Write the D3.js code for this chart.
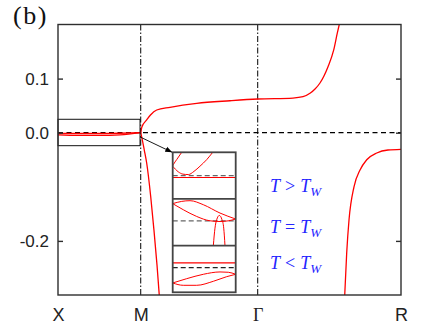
<!DOCTYPE html>
<html>
<head>
<meta charset="utf-8">
<script src="https://cdnjs.cloudflare.com/ajax/libs/d3/7.8.5/d3.min.js"></script>
<style>
body{margin:0;background:#fff;}
svg{display:block;}
</style>
</head>
<body>
<div id="chart"></div>
<script>
// K-PATH: X-M : M-GAMMA : GAMMA-R = 1 : SQRT2 : SQRT3
var kTicks = [0, 1, 1 + Math.SQRT2, 1 + Math.SQRT2 + Math.sqrt(3)];
var kLabels = ["X", "M", "\u0393", "R"];
var yTicks = [0.1, 0.0, -0.2];
var yTickLabels = ["0.1", "0.0", "-0.2"];

// X-M : TWO NEARLY FLAT BANDS
var xmK = [0, 0.25, 0.5, 0.75, 1];
var xmBandA = [-0.0015, -0.0015, -0.0015, -0.001, 0];
var xmBandB = [-0.004, -0.005, -0.005, -0.004, 0];

// BAND LEAVING M UPWARD, FLAT ACROSS GAMMA, DIVERGING TOWARD R
var upK = [1.0, 1.015, 1.072, 1.118, 1.193, 1.354, 1.677, 2.079, 2.414, 2.84, 2.962, 3.046, 3.107, 3.167, 3.264, 3.333, 3.376, 3.40];
var upE = [0, 0.011, 0.0235, 0.0327, 0.042, 0.047, 0.0543, 0.0591, 0.0623, 0.064, 0.0665, 0.0728, 0.0808, 0.0919, 0.122, 0.153, 0.184, 0.2];

// BAND LEAVING M DOWNWARD
var downK = [1.0, 1.012, 1.043, 1.072, 1.12, 1.16, 1.197, 1.224];
var downE = [0, -0.008, -0.032, -0.056, -0.117, -0.180, -0.245, -0.30];

// BAND COMING UP FROM BELOW NEAR R
var rK = [3.466, 3.490, 3.518, 3.578, 3.651, 3.732, 3.853, 3.989, 4.146];
var rE = [-0.300, -0.222, -0.161, -0.100, -0.069, -0.050, -0.0375, -0.032, -0.0307];

// ZOOM BOX ROUND THE X-M SEGMENT
var boxK = [0, 1];
var boxE = [-0.024, 0.0248];

// INSET PANELS, LOCAL COORDS: u ACROSS (0..1), v UP (0..1)
var insetRelations = [">", "=", "<"];
// PANEL 1 (T > Tw)
var p1ArcU = [0, 0.01, 0.063, 0.143];
var p1ArcV = [0.71, 0.736, 0.843, 1.0];
var p1BowlU = [0, 0.089, 0.163, 0.248, 0.338, 0.433, 0.54, 0.635];
var p1BowlV = [0.702, 0.581, 0.532, 0.523, 0.591, 0.702, 0.843, 1.0];
var p1Flat = 0.46;
var p1Dash = 0.5;
// PANEL 2 (T = Tw)
var p2UpperU = [0, 0.143, 0.275, 0.486, 0.751, 1];
var p2UpperV = [0.9, 0.948, 0.963, 0.877, 0.698, 0.57];
var p2LowerU = [0, 0.168, 0.381, 0.592, 0.751, 0.883, 1];
var p2LowerV = [0.9, 0.769, 0.625, 0.532, 0.517, 0.532, 0.57];
var p2PeakU = [0.645, 0.671, 0.698, 0.74, 0.783, 0.81, 0.83];
var p2PeakV = [0.0, 0.375, 0.554, 0.647, 0.554, 0.375, 0.0];
var p2Dash = 0.532;
// PANEL 3 (T < Tw)
var p3UpperU = [0, 0.222, 0.486, 0.751, 0.883, 1];
var p3UpperV = [0.2, 0.292, 0.386, 0.436, 0.429, 0.386];
var p3LowerU = [0, 0.168, 0.381, 0.645, 0.857, 1];
var p3LowerV = [0.2, 0.15, 0.15, 0.236, 0.335, 0.386];
var p3Flat = 0.629;
var p3Dash = 0.528;

var W = 443, H = 332;
var plot = {left: 58, right: 401, top: 24.5, bottom: 295};
var RED = "#ff0000", FRAME = "#2e2e2e";

var svg = d3.select("#chart").append("svg")
	.attr("width", W)
	.attr("height", H)
	.style("background", "#fff");

var x = d3.scaleLinear().domain([0, kTicks[3]]).range([plot.left, plot.right]);
var y = d3.scaleLinear().domain([-0.3, 0.2]).range([plot.bottom, plot.top]);

svg.append("defs").append("clipPath").attr("id", "plotClip")
	.append("rect")
	.attr("x", plot.left).attr("y", plot.top)
	.attr("width", plot.right - plot.left).attr("height", plot.bottom - plot.top);

var marker = svg.select("defs").append("marker")
	.attr("id", "arrow")
	.attr("viewBox", "0 0 10 10")
	.attr("refX", 10).attr("refY", 5)
	.attr("markerWidth", 7).attr("markerHeight", 7)
	.attr("markerUnits", "userSpaceOnUse")
	.attr("orient", "auto");
marker.append("path").attr("d", "M0,1 L10,5 L0,9 z").attr("fill", "#000");

var g = svg.append("g").attr("clip-path", "url(#plotClip)");

//SYMMETRY POINT LINES (M, GAMMA)
g.selectAll("line.kline")
	.data(kTicks.slice(1, 3))
	.enter().append("line")
	.attr("class", "kline")
	.attr("x1", function(d){return x(d);})
	.attr("x2", function(d){return x(d);})
	.attr("y1", plot.top).attr("y2", plot.bottom)
	.attr("stroke", "#000")
	.attr("stroke-width", 1)
	.attr("stroke-dasharray", "6,2,1.5,2");

//ZERO LINE
g.append("line")
	.attr("x1", plot.left).attr("x2", plot.right)
	.attr("y1", y(0)).attr("y2", y(0))
	.attr("stroke", "#000")
	.attr("stroke-width", 1.2)
	.attr("stroke-dasharray", "5,3.5");

function zipK(ks, es){
	return ks.map(function(k, i){return [k, es[i]];});
}

var bandLine = d3.line()
	.x(function(d){return x(d[0]);})
	.y(function(d){return y(d[1]);})
	.curve(d3.curveMonotoneX);

var bands = [
	zipK(xmK, xmBandA),
	zipK(xmK, xmBandB),
	zipK(upK, upE),
	zipK(downK, downE),
	zipK(rK, rE)
];

g.selectAll("path.band")
	.data(bands)
	.enter().append("path")
	.attr("class", "band")
	.attr("d", bandLine)
	.attr("fill", "none")
	.attr("stroke", RED)
	.attr("stroke-width", 1.3);

//ZOOM BOX
svg.append("rect")
	.attr("x", x(boxK[0])).attr("y", y(boxE[1]))
	.attr("width", x(boxK[1]) - x(boxK[0]) - 0.7)
	.attr("height", y(boxE[0]) - y(boxE[1]))
	.attr("fill", "none")
	.attr("stroke", "#111")
	.attr("stroke-width", 1);

//INSET
var inset = {left: 172.7, right: 235.7, top: 152.3, bottom: 292.3};
var panelH = (inset.bottom - inset.top) / 3;
var ix = d3.scaleLinear().domain([0, 1]).range([inset.left, inset.right]);
var panels = [0, 1, 2].map(function(i){
	return d3.scaleLinear().domain([0, 1]).range([inset.top + (i + 1) * panelH, inset.top + i * panelH]);
});

//ARROW FROM BOX TO INSET
svg.append("line")
	.attr("x1", x(1) - 0.5).attr("y1", y(-0.008))
	.attr("x2", inset.left - 0.5).attr("y2", inset.top)
	.attr("stroke", "#000")
	.attr("stroke-width", 0.9)
	.attr("marker-end", "url(#arrow)");

svg.append("rect")
	.attr("x", inset.left).attr("y", inset.top)
	.attr("width", inset.right - inset.left).attr("height", inset.bottom - inset.top)
	.attr("fill", "#fff");

svg.append("clipPath").attr("id", "insetClip")
	.append("rect")
	.attr("x", inset.left).attr("y", inset.top)
	.attr("width", inset.right - inset.left).attr("height", inset.bottom - inset.top);

var ig = svg.append("g").attr("clip-path", "url(#insetClip)");

function insetCurve(us, vs, panel){
	var sy = panels[panel];
	var pts = us.map(function(u, i){return [ix(u), sy(vs[i])];});
	return d3.line().curve(d3.curveMonotoneX)(pts);
}

function insetH(v, panel, color, dash){
	ig.append("line")
		.attr("x1", inset.left).attr("x2", inset.right)
		.attr("y1", panels[panel](v)).attr("y2", panels[panel](v))
		.attr("stroke", color)
		.attr("stroke-width", 1.2)
		.attr("stroke-dasharray", dash);
}

var insetRed = [
	insetCurve(p1ArcU, p1ArcV, 0),
	insetCurve(p1BowlU, p1BowlV, 0),
	insetCurve(p2UpperU, p2UpperV, 1),
	insetCurve(p2LowerU, p2LowerV, 1),
	insetCurve(p2PeakU, p2PeakV, 1),
	insetCurve(p3UpperU, p3UpperV, 2),
	insetCurve(p3LowerU, p3LowerV, 2)
];

insetH(p1Dash, 0, "#666", "5,3");
insetH(p2Dash, 1, "#666", "5,3");
insetH(p3Dash, 2, "#222", "5,3");

ig.selectAll("path.ib")
	.data(insetRed)
	.enter().append("path")
	.attr("class", "ib")
	.attr("d", function(d){return d;})
	.attr("fill", "none")
	.attr("stroke", RED)
	.attr("stroke-width", 1);

insetH(p1Flat, 0, RED, null);
insetH(p3Flat, 2, RED, null);

//PANEL DIVIDERS AND FRAME
[1, 2].forEach(function(i){
	svg.append("line")
		.attr("x1", inset.left).attr("x2", inset.right)
		.attr("y1", panels[i](1)).attr("y2", panels[i](1))
		.attr("stroke", "#444")
		.attr("stroke-width", 1.8);
});
svg.append("rect")
	.attr("x", inset.left).attr("y", inset.top)
	.attr("width", inset.right - inset.left).attr("height", inset.bottom - inset.top)
	.attr("fill", "none")
	.attr("stroke", "#444")
	.attr("stroke-width", 1.8);

//INSET LABELS (LATEX-LIKE MATH SPACING)
var labelY = [191.5, 233, 268.5];
insetRelations.forEach(function(rel, i){
	var txt = svg.append("text")
		.attr("x", 270).attr("y", labelY[i])
		.attr("fill", "#2424ff")
		.style("font-family", "'Liberation Serif', serif")
		.style("font-size", "18px");
	txt.append("tspan").style("font-style", "italic").text("T");
	txt.append("tspan").attr("dx", 5).text(rel);
	txt.append("tspan").attr("dx", 5).style("font-style", "italic").text("T");
	txt.append("tspan").attr("dy", 4).style("font-style", "italic").style("font-size", "13px").text("W");
});

//AXES FRAME
svg.append("rect")
	.attr("x", plot.left).attr("y", plot.top)
	.attr("width", plot.right - plot.left).attr("height", plot.bottom - plot.top)
	.attr("fill", "none")
	.attr("stroke", FRAME)
	.attr("stroke-width", 1.4);

var yAxisL = d3.axisLeft(y).tickValues(yTicks).tickSizeInner(-5).tickSizeOuter(0)
	.tickPadding(9)
	.tickFormat(function(d, i){return yTickLabels[i];});
var yAxisR = d3.axisRight(y).tickValues(yTicks).tickSizeInner(-5).tickSizeOuter(0)
	.tickFormat("");

var gl = svg.append("g").attr("transform", "translate(" + plot.left + ",0)").call(yAxisL);
var gr = svg.append("g").attr("transform", "translate(" + plot.right + ",0)").call(yAxisR);
[gl, gr].forEach(function(a){
	a.select(".domain").remove();
	a.selectAll(".tick line").attr("stroke", FRAME).attr("stroke-width", 1.4);
});
gl.selectAll(".tick text")
	.attr("fill", "#222")
	.style("font-family", "'Liberation Sans', Arial, sans-serif")
	.style("font-size", "17px");

var xAxis = d3.axisBottom(x).tickValues(kTicks).tickSize(0).tickPadding(13)
	.tickFormat(function(d, i){return kLabels[i];});
var gx = svg.append("g").attr("transform", "translate(0," + plot.bottom + ")").call(xAxis);
gx.select(".domain").remove();
gx.selectAll(".tick text")
	.attr("fill", "#222")
	.style("font-family", "'Liberation Sans', Arial, sans-serif")
	.style("font-size", "18px");
gx.selectAll(".tick text").filter(function(d, i){return i == 2;})
	.style("font-family", "'Liberation Serif', serif");

//PANEL TAG
svg.append("text")
	.attr("x", 13).attr("y", 24)
	.attr("fill", "#111")
	.attr("letter-spacing", 1.5)
	.style("font-family", "'Liberation Serif', serif")
	.style("font-size", "26px")
	.text("(b)");
</script>
</body>
</html>
